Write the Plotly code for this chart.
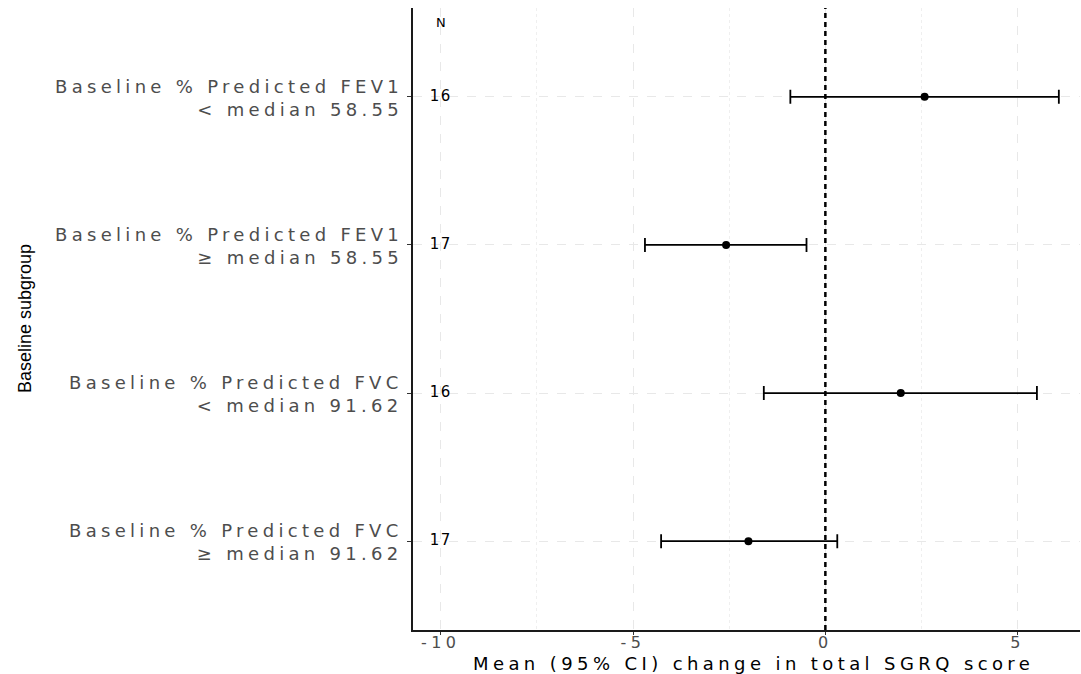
import plotly.graph_objects as go

subgroup_measure = [
    "Baseline % Predicted FEV1",
    "Baseline % Predicted FEV1",
    "Baseline % Predicted FVC",
    "Baseline % Predicted FVC",
]
subgroup_split = [
    "&lt; median 58.55",
    "≥ median 58.55",
    "&lt; median 91.62",
    "≥ median 91.62",
]
subgroups = [f"{a} | {b}" for a, b in zip(subgroup_measure, subgroup_split)]
means = [2.58, -2.58, 1.96, -2.0]
lower = [-0.91, -4.69, -1.60, -4.27]
upper = [6.07, -0.49, 5.50, 0.31]
n_vals = ["16", "17", "16", "17"]
x_ticks = [-10, -5, 0, 5]
x_ticklabels = ["-10", "-5", "0", "5"]

FONT = "DejaVu Sans, Liberation Sans, Arial, sans-serif"


def spaced(txt, ls):
    return f'<span style="letter-spacing:{ls}px">{txt}</span>'


fig = go.Figure()

# zero reference line
fig.add_vline(x=0, line=dict(color="black", width=2.5, dash="5px,4px"), layer="above")

fig.add_trace(go.Scatter(
    x=means, y=subgroups, mode="markers",
    marker=dict(color="black", size=8),
    error_x=dict(type="data", symmetric=False,
                 array=[u - m for u, m in zip(upper, means)],
                 arrayminus=[m - l for m, l in zip(means, lower)],
                 color="black", thickness=1.8, width=7),
    showlegend=False, hoverinfo="skip",
))

fig.add_trace(go.Scatter(
    x=[-10] * len(n_vals), y=subgroups, mode="text",
    text=[spaced(v, 1.5) for v in n_vals],
    textposition="middle center",
    textfont=dict(family=FONT, size=15, color="black"),
    showlegend=False, hoverinfo="skip",
))

fig.add_annotation(x=-10, y=-0.5, xref="x", yref="y", text=spaced("N", 3), showarrow=False,
                   xshift=2, font=dict(family=FONT, size=13, color="black"))

# two-line y category labels (right aligned)
for cat, l1, l2 in zip(subgroups, subgroup_measure, subgroup_split):
    fig.add_annotation(x=0, y=cat, xref="paper", yref="y",
                       text=spaced(l1, 4.3) + "<br>" + spaced(l2, 4.3),
                       align="right", showarrow=False, xanchor="right", yanchor="middle",
                       xshift=-8, yshift=-1,
                       font=dict(family=FONT, size=18, color="#4d4d4d"))

# axis titles
fig.add_annotation(x=0.5, y=0, xref="paper", yref="paper",
                   text=spaced("Mean (95% CI) change in total SGRQ score", 4.4),
                   showarrow=False, xanchor="center", yanchor="middle", xshift=7, yshift=-33,
                   font=dict(family=FONT, size=18, color="black"))
fig.add_annotation(x=-0.5817, y=0.5, xref="paper", yref="paper", text="Baseline subgroup",
                   textangle=-90, showarrow=False, xanchor="center", yanchor="middle",
                   font=dict(family="Liberation Sans, Arial, sans-serif",
                             size=18, color="black"))

grid_col = "#e8e8e8"
fig.update_layout(
    width=1081, height=674,
    margin=dict(l=413, r=1, t=8, b=44),
    plot_bgcolor="white", paper_bgcolor="white",
    font=dict(family=FONT),
    xaxis=dict(
        range=[-10.72, 6.62], tickvals=x_ticks,
        ticktext=[spaced(t, 4.5) for t in x_ticklabels],
        showgrid=True, gridcolor=grid_col, griddash="dash", gridwidth=1,
        minor=dict(tickvals=[-7.5, -2.5, 2.5], showgrid=True, gridcolor="#efefef",
                   griddash="dot", gridwidth=1, ticks=""),
        showline=True, linecolor="#1a1a1a", linewidth=2,
        ticks="outside", ticklen=3, tickcolor="#333333",
        ticklabelstandoff=-6,
        tickfont=dict(family=FONT, size=16, color="#4d4d4d"),
        zeroline=False,
    ),
    yaxis=dict(
        type="category", categoryorder="array", categoryarray=subgroups,
        range=[3.6, -0.6], showticklabels=False,
        showgrid=True, gridcolor=grid_col, griddash="dash", gridwidth=1,
        showline=True, linecolor="#1a1a1a", linewidth=2,
        ticks="outside", ticklen=4, tickcolor="#333333",
        zeroline=False,
    ),
)

fig.write_html("out.html")
